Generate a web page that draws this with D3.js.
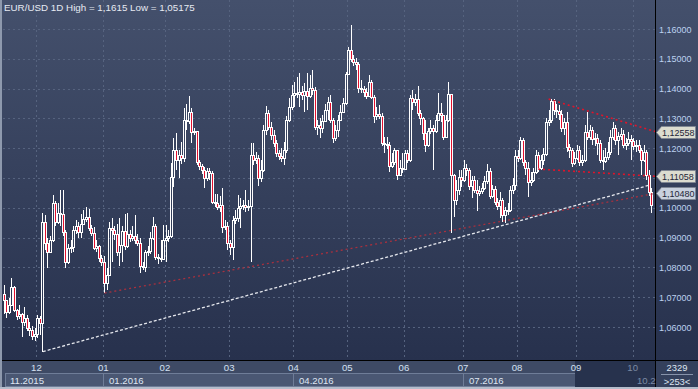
<!DOCTYPE html>
<html>
<head>
<meta charset="utf-8">
<script src="https://cdnjs.cloudflare.com/ajax/libs/d3/7.8.5/d3.min.js"></script>
<style>
  body { margin: 0; background: #2b3550; overflow: hidden; }
  svg { display: block; }
  text { font-family: "Liberation Sans", Arial, sans-serif; }
</style>
</head>
<body>
<div id="chart"></div>
<script>
var WIDTH = 698
var HEIGHT = 389

// EUR/USD daily, 11.2015 - 10.2016 (253 bars)
var firstOpen = 1.0710;
var closes = [
  // nov
  1.0691,1.0650,1.0674,1.0734,1.0657,1.0637,1.0644,1.0617,1.0630,1.0597,1.0590,1.0570,1.0577,
  // dec
  1.0630,1.0613,1.0952,1.0882,1.0852,1.0892,1.1016,1.0952,1.0982,1.0979,1.0919,1.0818,1.0865,1.0868,1.0925,1.0939,1.0919,1.0946,1.0962,1.0969,1.0932,1.0915,1.0865,1.0872,1.0832,1.0818,
  // jan
  1.0748,1.0774,1.0932,1.0925,1.0912,1.0852,1.0875,1.0922,1.0872,1.0912,1.0899,1.0905,1.0892,1.0882,1.0805,1.0801,1.0852,1.0855,1.0899,1.0939,1.0835,1.0832,1.0828,1.0892,
  // feb
  1.0899,1.0905,1.1103,1.1194,1.1160,1.1177,1.1167,1.1295,1.1291,1.1321,1.1254,1.1258,1.1154,1.1140,1.1127,1.1100,1.1123,1.1117,1.1019,1.1016,1.1003,1.1009,1.0936,1.0939,1.0882,
  // mar
  1.0868,1.0959,1.0966,1.0999,1.1006,1.1009,1.1003,1.1006,1.1177,1.1160,1.1167,1.1100,1.1127,1.1261,1.1318,1.1271,1.1244,1.1217,1.1184,1.1174,1.1167,1.1194,1.1295,1.1338,1.1379,
  // apr
  1.1385,1.1382,1.1389,1.1379,1.1392,1.1375,1.1402,1.1395,1.1271,1.1278,1.1268,1.1291,1.1328,1.1355,1.1295,1.1234,1.1261,1.1295,1.1321,1.1352,1.1449,
  // may
  1.1530,1.1499,1.1489,1.1483,1.1402,1.1399,1.1389,1.1375,1.1422,1.1372,1.1308,1.1315,1.1308,1.1217,1.1214,1.1211,1.1140,1.1154,1.1194,1.1110,1.1134,1.1130,
  // jun
  1.1184,1.1160,1.1368,1.1355,1.1365,1.1318,1.1301,1.1251,1.1211,1.1258,1.1268,1.1258,1.1295,1.1318,1.1311,1.1238,1.1295,1.1382,1.1110,1.1026,1.1060,1.1103,1.1093,
  // jul
  1.1134,1.1127,1.1073,1.1093,1.1060,1.1050,1.1056,1.1066,1.1090,1.1123,1.1040,1.1063,1.1019,1.1006,1.1026,1.0976,1.0993,1.0993,1.1060,1.1076,1.1174,
  // aug
  1.1167,1.1228,1.1154,1.1134,1.1087,1.1093,1.1120,1.1177,1.1134,1.1160,1.1181,1.1288,1.1295,1.1358,1.1328,1.1325,1.1315,1.1268,1.1288,1.1204,1.1194,1.1150,1.1167,
  // sep
  1.1194,1.1154,1.1160,1.1254,1.1238,1.1261,1.1231,1.1234,1.1217,1.1160,1.1157,1.1170,1.1187,1.1238,1.1268,1.1228,1.1241,1.1248,1.1211,1.1217,1.1231,1.1224,
  // oct
  1.1207,1.1211,1.1194,1.1160,1.1187,1.1110,1.1053,1.1009
];
var highs = [
  1.0741,1.0691,1.0697,1.0764,1.0738,1.0660,1.0674,1.0647,1.0667,1.0640,1.0617,1.0603,1.0597,
  1.0640,1.0637,1.0983,1.0975,1.0899,1.0905,1.1043,1.1023,1.1016,1.1060,1.1060,1.0925,1.0878,1.0892,1.0939,1.0959,1.0952,1.0979,1.0993,1.1003,1.0996,1.0942,1.0936,1.0892,1.0875,1.0842,
  1.0838,1.0798,1.0952,1.0966,1.0939,1.0946,1.0966,1.0939,1.0979,1.0982,1.0925,1.0939,1.0976,1.0912,1.0899,1.0818,1.0858,1.0872,1.0919,1.0969,1.0946,1.0845,1.0892,1.0942,
  1.0942,1.0925,1.1150,1.1234,1.1251,1.1194,1.1221,1.1335,1.1348,1.1375,1.1335,1.1268,1.1238,1.1160,1.1147,1.1137,1.1134,1.1134,1.1123,1.1046,1.1046,1.1040,1.1066,1.0959,1.0952,
  1.0892,1.0972,1.0993,1.1043,1.1033,1.1026,1.1060,1.1026,1.1217,1.1217,1.1187,1.1177,1.1160,1.1278,1.1342,1.1328,1.1288,1.1261,1.1228,1.1194,1.1201,1.1221,1.1308,1.1368,1.1412,
  1.1422,1.1439,1.1452,1.1409,1.1419,1.1452,1.1446,1.1462,1.1405,1.1295,1.1301,1.1311,1.1348,1.1372,1.1379,1.1301,1.1278,1.1311,1.1345,1.1368,1.1456,
  1.1540,1.1615,1.1513,1.1503,1.1489,1.1429,1.1409,1.1402,1.1446,1.1429,1.1379,1.1338,1.1345,1.1318,1.1238,1.1238,1.1221,1.1184,1.1201,1.1194,1.1160,1.1184,
  1.1194,1.1194,1.1379,1.1395,1.1382,1.1409,1.1328,1.1305,1.1295,1.1268,1.1295,1.1278,1.1311,1.1385,1.1352,1.1311,1.1311,1.1422,1.1382,1.1115,1.1093,1.1127,1.1127,
  1.1160,1.1147,1.1134,1.1107,1.1107,1.1093,1.1073,1.1083,1.1107,1.1147,1.1134,1.1076,1.1073,1.1033,1.1053,1.1033,1.1003,1.1016,1.1073,1.1100,1.1194,
  1.1194,1.1238,1.1234,1.1160,1.1154,1.1120,1.1134,1.1194,1.1187,1.1177,1.1201,1.1301,1.1328,1.1365,1.1365,1.1348,1.1345,1.1328,1.1301,1.1321,1.1214,1.1201,1.1187,
  1.1211,1.1207,1.1177,1.1278,1.1321,1.1278,1.1271,1.1251,1.1248,1.1228,1.1194,1.1201,1.1221,1.1261,1.1288,1.1278,1.1254,1.1268,1.1261,1.1234,1.1254,1.1244,
  1.1234,1.1228,1.1228,1.1201,1.1211,1.1194,1.1127,1.1066
];
var lows = [
  1.0644,1.0630,1.0644,1.0670,1.0650,1.0623,1.0627,1.0567,1.0603,1.0587,1.0570,1.0556,1.0553,
  1.0563,1.0573,1.05175,1.0858,1.0798,1.0852,1.0885,1.0939,1.0945,1.0939,1.0905,1.0798,1.0811,1.0848,1.0852,1.0912,1.0899,1.0899,1.0946,1.0952,1.0922,1.0905,1.0858,1.0852,1.0818,1.0805,
  1.0714,1.0724,1.0771,1.0818,1.0892,1.0838,1.0805,1.0818,1.0858,1.0865,1.0885,1.0889,1.0878,1.0872,1.0781,1.0791,1.0785,1.0838,1.0845,1.0892,1.0825,1.0811,1.0818,1.0825,
  1.0818,1.0885,1.0899,1.1070,1.1127,1.1100,1.1147,1.1154,1.1261,1.1281,1.1217,1.1244,1.1144,1.1127,1.1113,1.1066,1.1090,1.1093,1.1013,1.1003,1.0993,1.0986,1.0915,1.0925,1.0858,
  1.0842,1.0825,1.0946,1.0952,1.0932,1.0993,1.0986,1.0989,1.0818,1.1144,1.1147,1.1073,1.1087,1.1120,1.1244,1.1261,1.1228,1.1204,1.1170,1.1160,1.1154,1.1144,1.1184,1.1288,1.1328,
  1.1338,1.1368,1.1338,1.1362,1.1321,1.1328,1.1368,1.1379,1.1261,1.1244,1.1234,1.1251,1.1288,1.1295,1.1285,1.1217,1.1224,1.1238,1.1291,1.1318,1.1345,
  1.1449,1.1489,1.1476,1.1462,1.1385,1.1385,1.1372,1.1365,1.1372,1.1365,1.1285,1.1295,1.1298,1.1207,1.1184,1.1197,1.1120,1.1134,1.1144,1.1093,1.1107,1.1117,
  1.1127,1.1150,1.1154,1.1328,1.1342,1.1308,1.1278,1.1228,1.1187,1.1204,1.1248,1.1127,1.1251,1.1291,1.1288,1.1228,1.1234,1.1288,1.0915,1.0969,1.1009,1.1043,1.1070,
  1.1085,1.1107,1.1060,1.1033,1.1050,1.0989,1.1040,1.1046,1.1060,1.1080,1.1029,1.1033,1.1009,1.0993,1.0966,1.0952,1.0949,1.0976,1.0986,1.1046,1.1060,
  1.1154,1.1160,1.1140,1.1110,1.1036,1.1073,1.1087,1.1113,1.1120,1.1127,1.1144,1.1174,1.1274,1.1285,1.1311,1.1301,1.1295,1.1254,1.1244,1.1187,1.1167,1.1137,1.1144,
  1.1160,1.1140,1.1140,1.1154,1.1228,1.1228,1.1211,1.1207,1.1177,1.1150,1.1127,1.1150,1.1160,1.1177,1.1228,1.1211,1.1177,1.1228,1.1201,1.1194,1.1207,1.1160,
  1.1194,1.1187,1.1184,1.1110,1.1154,1.1093,1.1040,1.0982
];

// month starts (bar index) and labels
var monthStart = [13, 39, 63, 88, 113, 134, 156, 179, 200, 223, 245];
var monthLabels = ['12', '01', '02', '03', '04', '05', '06', '07', '08', '09', '10'];
var periodStart = [0, 39, 113, 179];
var periodLabels = ['11.2015', '01.2016', '04.2016', '07.2016'];
var priceTicks = [1.06, 1.07, 1.08, 1.09, 1.10, 1.11, 1.12, 1.13, 1.14, 1.15, 1.16];

// trend lines: [barIndex, price]
var lineFrom = [[15, 1.05175], [39, 1.0714], [211.8, 1.1365], [207.7, 1.1130]];
var lineTo = [[251.5, 1.1077], [253.3, 1.1048], [253.3, 1.12558], [253.3, 1.11058]];
var lineKind = ['white', 'dim', 'red', 'red'];
var tagPrices = [1.12558, 1.11058, 1.10480];

var PLOT_L = 3, PLOT_R = 655, PLOT_B = 360;

var xScale = d3.scaleLinear()
    .domain([0, closes.length])
    .range([PLOT_L, PLOT_L + 2.57 * closes.length]);
var yScale = d3.scaleLinear()
    .domain([1.06, 1.16])
    .range([327, 29]);

var fmt = function (v, n) { return v.toFixed(n).replace('.', ','); };

const svg = d3.select('#chart').append('svg')
    .attr('width', WIDTH)
    .attr('height', HEIGHT);

var defs = svg.append('defs');
var grad = defs.append('linearGradient').attr('id', 'bg')
    .attr('x1', 0).attr('y1', 0).attr('x2', 0).attr('y2', 1);
grad.append('stop').attr('offset', '0%').attr('stop-color', '#44506c');
grad.append('stop').attr('offset', '100%').attr('stop-color', '#27314d');
defs.append('clipPath').attr('id', 'plotClip')
    .append('rect').attr('x', PLOT_L).attr('y', 0).attr('width', PLOT_R - PLOT_L).attr('height', PLOT_B);

// background
svg.append('rect').attr('x', 0).attr('y', 0).attr('width', WIDTH).attr('height', PLOT_B)
    .attr('fill', 'url(#bg)');

// grid
var g = svg.append('g');
g.selectAll('.hgrid')
    .data(priceTicks)
    .enter()
    .append('line')
    .attr('class', 'hgrid')
    .attr('x1', PLOT_L).attr('x2', PLOT_R)
    .attr('y1', d => Math.round(yScale(d)) + 0.5)
    .attr('y2', d => Math.round(yScale(d)) + 0.5)
    .attr('stroke', '#56637f')
    .attr('stroke-dasharray', '2,3');
g.selectAll('.vgrid')
    .data(monthStart)
    .enter()
    .append('line')
    .attr('class', 'vgrid')
    .attr('x1', d => Math.round(xScale(d)) + 0.5)
    .attr('x2', d => Math.round(xScale(d)) + 0.5)
    .attr('y1', 0).attr('y2', PLOT_B)
    .attr('stroke', '#56637f')
    .attr('stroke-dasharray', '2,3');

// candles
var candles = closes.map((c, i) => ({
    i: i,
    o: i ? closes[i - 1] : firstOpen,
    c: c,
    h: highs[i],
    l: lows[i]
}));

var cg = svg.append('g').attr('clip-path', 'url(#plotClip)');
var barX = d => Math.floor(xScale(d.i + 0.5));
var bodyTop = d => Math.round(yScale(Math.max(d.o, d.c)));
var bodyBot = d => Math.max(Math.round(yScale(Math.min(d.o, d.c))), bodyTop(d) + 1);

cg.selectAll('.wickHi')
    .data(candles)
    .enter()
    .append('line')
    .attr('x1', d => barX(d) + 0.5).attr('x2', d => barX(d) + 0.5)
    .attr('y1', d => Math.round(yScale(d.h)))
    .attr('y2', d => bodyTop(d))
    .attr('stroke', '#ffffff');
cg.selectAll('.wickLo')
    .data(candles)
    .enter()
    .append('line')
    .attr('x1', d => barX(d) + 0.5).attr('x2', d => barX(d) + 0.5)
    .attr('y1', d => bodyBot(d))
    .attr('y2', d => Math.round(yScale(d.l)))
    .attr('stroke', '#ffffff');
cg.selectAll('.body')
    .data(candles)
    .enter()
    .append('rect')
    .attr('x', d => barX(d) - 0.5)
    .attr('y', d => bodyTop(d) + 0.5)
    .attr('width', 2)
    .attr('height', d => bodyBot(d) - bodyTop(d))
    .attr('fill', d => d.c < d.o ? '#e3102e' : 'none')
    .attr('stroke', '#ffffff')
    .attr('stroke-width', 1);

// trend lines
var trend = svg.append('g').attr('clip-path', 'url(#plotClip)');
var lineData = lineFrom.map((f, k) => ({ f: f, t: lineTo[k], kind: lineKind[k] }));
trend.selectAll('.trend')
    .data(lineData)
    .enter()
    .append('line')
    .attr('x1', d => xScale(d.f[0] + 0.5))
    .attr('y1', d => yScale(d.f[1]))
    .attr('x2', d => xScale(d.t[0] + 0.5))
    .attr('y2', d => yScale(d.t[1]))
    .attr('stroke', d => d.kind === 'white' ? '#e6e8ee' : (d.kind === 'red' ? '#e0142a' : '#a8303e'))
    .attr('stroke-width', d => d.kind === 'white' ? 1.3 : (d.kind === 'red' ? 1.6 : 1.3))
    .attr('stroke-dasharray', d => d.kind === 'white' ? '3,2' : '2,3');

// title
svg.append('text')
    .attr('x', 4).attr('y', 11)
    .attr('fill', '#e6eaf2')
    .style('font-size', '9.8px')
    .text('EUR/USD 1D High = 1,1615 Low = 1,05175');

// right axis (labels hidden under a price tag are skipped, as in the terminal)
svg.append('line').attr('x1', PLOT_R + 0.5).attr('x2', PLOT_R + 0.5).attr('y1', 0).attr('y2', HEIGHT)
    .attr('stroke', '#000');
var freeTicks = priceTicks.filter(p => tagPrices.every(t => Math.abs(yScale(p) - yScale(t)) > 10));
svg.selectAll('.ytick')
    .data(freeTicks)
    .enter()
    .append('text')
    .attr('x', 659)
    .attr('y', d => yScale(d) + 3.5)
    .attr('fill', '#bcd2f0')
    .style('font-size', '9px')
    .text(d => fmt(d, 5));

// price tags
var tags = svg.selectAll('.tag')
    .data(tagPrices)
    .enter()
    .append('g')
    .attr('transform', d => 'translate(0,' + Math.round(yScale(d)) + ')');
tags.append('path')
    .attr('d', 'M656.5,0.5 L661.5,-5.5 L695.5,-5.5 L695.5,6.5 L661.5,6.5 Z')
    .attr('fill', (d, i) => i === 2 ? '#c9d1de' : '#dcdcd0')
    .attr('stroke', '#7d8592')
    .attr('stroke-width', 0.8);
tags.append('text')
    .attr('x', 662).attr('y', 4)
    .attr('fill', '#1e2638')
    .style('font-size', '9px')
    .text(d => fmt(d, 5));

// bottom time panel
svg.append('rect').attr('x', 0).attr('y', PLOT_B).attr('width', PLOT_R).attr('height', HEIGHT - PLOT_B)
    .attr('fill', '#3e4a65');
svg.append('rect').attr('x', PLOT_R + 1).attr('y', PLOT_B).attr('width', WIDTH - PLOT_R).attr('height', HEIGHT - PLOT_B)
    .attr('fill', '#34405c');

var periodEnd = periodStart.slice(1).concat([222.6]);
svg.selectAll('.period')
    .data(periodStart)
    .enter()
    .append('rect')
    .attr('x', (d, i) => i === 0 ? 5.5 : Math.round(xScale(d)) + 0.5)
    .attr('y', 373.5)
    .attr('width', (d, i) => Math.round(xScale(periodEnd[i])) - (i === 0 ? 5 : Math.round(xScale(d))))
    .attr('height', 13)
    .attr('fill', '#4a5773')
    .attr('stroke', '#6f7d98');
svg.selectAll('.periodLabel')
    .data(periodLabels)
    .enter()
    .append('text')
    .attr('x', (d, i) => (i === 0 ? 10 : Math.round(xScale(periodStart[i])) + 6))
    .attr('y', 384)
    .attr('fill', '#dfe6f2')
    .style('font-size', '9.6px')
    .text(d => d);

// current-range shade
svg.append('rect')
    .attr('x', Math.round(xScale(222.6))).attr('y', PLOT_B + 1)
    .attr('width', PLOT_R - Math.round(xScale(222.6))).attr('height', 26)
    .attr('fill', '#27324d');
svg.append('text').attr('x', 637).attr('y', 384)
    .attr('fill', '#7b8aa4').style('font-size', '9.6px').text('10.2');

svg.selectAll('.monthLabel')
    .data(monthLabels)
    .enter()
    .append('text')
    .attr('x', (d, i) => xScale(monthStart[i]))
    .attr('y', 371)
    .attr('text-anchor', 'middle')
    .attr('fill', (d, i) => i === monthLabels.length - 1 ? '#7b8aa4' : '#d4e0f2')
    .style('font-size', '9.6px')
    .text(d => d);

svg.append('line').attr('x1', 0).attr('x2', WIDTH).attr('y1', PLOT_B + 0.5).attr('y2', PLOT_B + 0.5)
    .attr('stroke', '#000');

// bar counter box
svg.append('text').attr('x', 677).attr('y', 371).attr('text-anchor', 'middle')
    .attr('fill', '#dfe6f2').style('font-size', '9.4px').text('2329');
svg.append('line').attr('x1', 661).attr('x2', 693).attr('y1', 374.5).attr('y2', 374.5)
    .attr('stroke', '#8793ab');
svg.append('text').attr('x', 677).attr('y', 385).attr('text-anchor', 'middle')
    .attr('fill', '#dfe6f2').style('font-size', '9.4px').text('>' + closes.length + '<');

// frame
svg.append('rect').attr('x', 0).attr('y', 0).attr('width', 2).attr('height', HEIGHT).attr('fill', '#8e99ad');
svg.append('rect').attr('x', 0).attr('y', HEIGHT - 2).attr('width', WIDTH).attr('height', 2).attr('fill', '#b4bccb');
</script>
</body>
</html>
